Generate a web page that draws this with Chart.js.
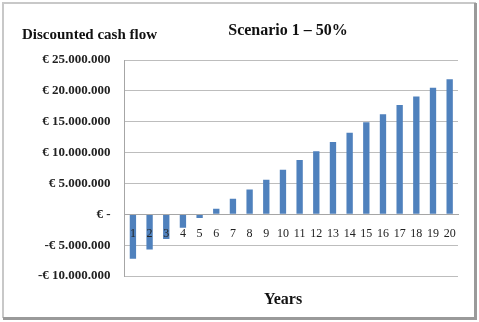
<!DOCTYPE html>
<html>
<head>
<meta charset="utf-8">
<script src="https://cdn.jsdelivr.net/npm/chart.js@4"></script>
<style>
  html, body { margin: 0; padding: 0; background: #fff; }
  #wrap { width: 479px; height: 322px; }
</style>
</head>
<body>
<div id="wrap"><canvas id="chart" width="479" height="322"></canvas></div>
<script>
const years = ['1','2','3','4','5','6','7','8','9','10','11','12','13','14','15','16','17','18','19','20'];
const cashFlow = [-7200000, -5700000, -4000000, -2200000, -600000, 900000, 2500000, 4000000, 5600000, 7200000,
  8800000, 10200000, 11700000, 13200000, 14900000, 16200000, 17700000, 19100000, 20500000, 21900000];
const yTicks = [-10000000, -5000000, 0, 5000000, 10000000, 15000000, 20000000, 25000000];

const serif = '"Liberation Serif", "DejaVu Serif", serif';

function euro(v) {
  if (v === 0) return '€ -';
  const s = Math.abs(v).toString().replace(/\B(?=(\d{3})+(?!\d))/g, '.');
  return (v < 0 ? '-€ ' : '€ ') + s;
}

const frame = {
  id: 'frame',
  beforeDraw(chart) {
    const c = chart.ctx;
    c.save();
    c.fillStyle = '#fff';
    c.fillRect(0, 0, chart.width, chart.height);
    c.strokeStyle = '#c8c8c8';
    c.lineWidth = 2;
    c.beginPath();
    c.moveTo(3, 318); c.lineTo(3, 3); c.lineTo(476, 3);
    c.stroke();
    c.strokeStyle = '#9a9a9a';
    c.lineWidth = 3;
    c.beginPath();
    c.moveTo(475.5, 3); c.lineTo(475.5, 318.5); c.lineTo(3, 318.5);
    c.stroke();
    c.restore();
  },
  afterDraw(chart) {
    const c = chart.ctx;
    c.save();
    c.fillStyle = '#111';
    c.textBaseline = 'middle';
    c.font = 'bold 15px ' + serif;
    c.textAlign = 'left';
    c.fillText('Discounted cash flow', 22, 35);
    c.font = 'bold 16px ' + serif;
    c.textAlign = 'center';
    c.fillText('Scenario 1 – 50%', 288, 31);
    c.fillText('Years', 283, 300);
    c.restore();
  }
};

new Chart(document.getElementById('chart'), {
  type: 'bar',
  data: {
    labels: years,
    datasets: [{
      data: cashFlow,
      backgroundColor: '#4f81bd',
      borderWidth: 0,
      barPercentage: 0.38,
      categoryPercentage: 1
    }]
  },
  options: {
    responsive: false,
    animation: false,
    layout: { padding: { left: 24, right: 21, top: 60, bottom: 46 } },
    plugins: {
      legend: { display: false },
      tooltip: { enabled: false }
    },
    scales: {
      x: {
        position: { y: 0 },
        grid: { display: false, drawTicks: false },
        border: { color: '#a6a6a6', z: 1 },
        ticks: {
          z: 1,
          padding: 12,
          color: '#222',
          maxRotation: 0,
          autoSkip: false,
          font: { family: serif, size: 12 }
        }
      },
      y: {
        min: -10000000,
        max: 25000000,
        afterBuildTicks(axis) { axis.ticks = yTicks.map(v => ({ value: v })); },
        grid: { color: '#bdbdbd', drawTicks: false },
        border: { color: '#a6a6a6' },
        ticks: {
          padding: 14,
          color: '#222',
          font: { family: serif, size: 13, weight: 'bold' },
          callback: v => euro(v)
        }
      }
    }
  },
  plugins: [frame]
});
</script>
</body>
</html>
